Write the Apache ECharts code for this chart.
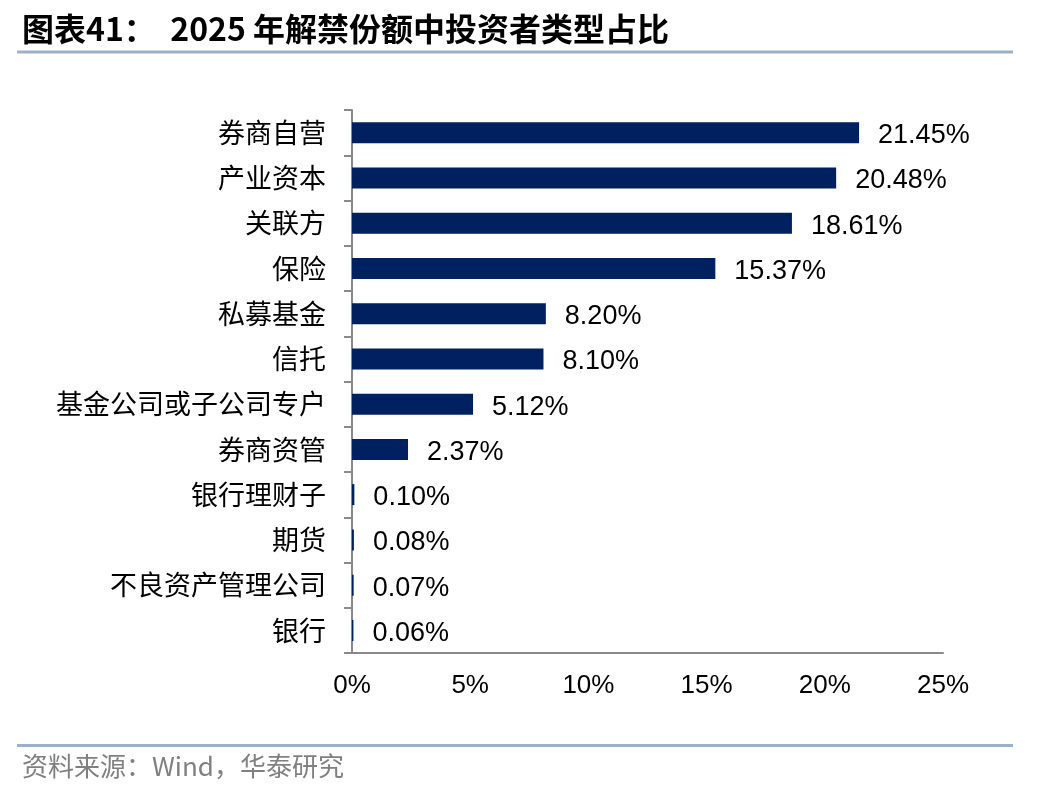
<!DOCTYPE html>
<html>
<head>
<meta charset="utf-8">
<script src="https://cdn.jsdelivr.net/npm/echarts@6/dist/echarts.min.js"></script>
<style>
html,body{margin:0;padding:0;background:#fff;}
#c{width:1048px;height:796px;}
</style>
</head>
<body>
<div id="c"></div>
<script>
var categories = ['券商自营','产业资本','关联方','保险','私募基金','信托','基金公司或子公司专户','券商资管','银行理财子','期货','不良资产管理公司','银行'];
var values = [21.45, 20.48, 18.61, 15.37, 8.20, 8.10, 5.12, 2.37, 0.10, 0.08, 0.07, 0.06];
var xTicks = {min: 0, max: 25, interval: 5};
var titleText = '图表41：  2025 年解禁份额中投资者类型占比';
var sourceText = '资料来源：Wind，华泰研究';

var chart = echarts.init(document.getElementById('c'), null, {renderer: 'canvas'});
chart.setOption({
  animation: false,
  backgroundColor: '#ffffff',
  grid: {left: 352, right: 105, top: 110, bottom: 143, containLabel: false},
  graphic: [
    {type: 'text', left: 22, top: 13, style: {text: titleText, font: 'bold 32px "Noto Sans CJK SC", sans-serif', fill: '#000000'}},
    {type: 'rect', shape: {x: 17, y: 50.5, width: 996, height: 3}, style: {fill: '#9DB0C9'}},
    {type: 'rect', shape: {x: 17, y: 744, width: 996, height: 3}, style: {fill: '#9DB0C9'}},
    {type: 'text', left: 22, top: 753, style: {text: sourceText, font: '26px "Noto Sans CJK SC", sans-serif', fill: '#808080'}}
  ],
  xAxis: {
    type: 'value',
    min: xTicks.min, max: xTicks.max, interval: xTicks.interval,
    axisLine: {show: true, lineStyle: {color: '#898989', width: 2}},
    axisTick: {show: false},
    splitLine: {show: false},
    axisLabel: {formatter: '{value}%', color: '#000', fontSize: 26, fontFamily: '"Liberation Sans", Arial, sans-serif', margin: 20}
  },
  yAxis: {
    type: 'category',
    data: categories,
    inverse: true,
    axisLine: {show: true, lineStyle: {color: '#898989', width: 2}},
    axisTick: {show: true, length: 8, lineStyle: {color: '#898989', width: 2}},
    axisLabel: {color: '#000', fontSize: 27, fontFamily: '"Noto Sans CJK SC", sans-serif', margin: 26}
  },
  series: [{
    type: 'bar',
    data: values,
    barWidth: 21,
    itemStyle: {color: '#002060'},
    label: {
      show: true, position: 'right', distance: 19, offset: [0, 3],
      formatter: function (p) { return p.value.toFixed(2) + '%'; },
      color: '#000', fontSize: 27, fontFamily: '"Liberation Sans", Arial, sans-serif'
    }
  }]
});
</script>
</body>
</html>
